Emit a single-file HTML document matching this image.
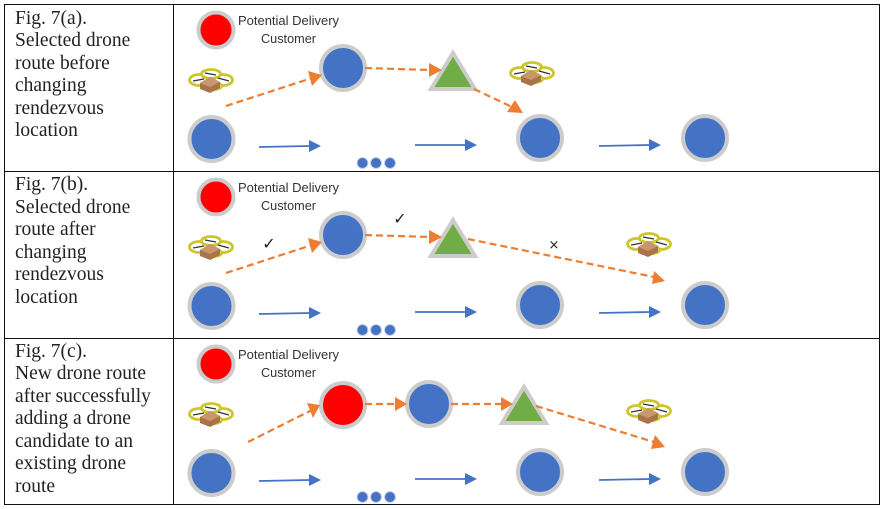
<!DOCTYPE html>
<html><head><meta charset="utf-8"><style>
html,body{margin:0;padding:0;background:#fff;width:886px;height:509px;overflow:hidden}
svg{display:block}
.c{font-family:"Liberation Serif",serif;font-size:19.5px;fill:#222}
.l{font-family:"Liberation Sans",sans-serif;font-size:12.5px;fill:#333;text-anchor:middle}
.m{font-family:"DejaVu Sans",sans-serif;font-size:16px;fill:#222;text-anchor:middle}
</style></head><body>
<svg width="886" height="509" viewBox="0 0 886 509" xmlns="http://www.w3.org/2000/svg">
<defs>
<g id="drone">
<ellipse cx="-12" cy="0" rx="9.500" ry="5.500" fill="#fff" stroke="#cdc62b" stroke-width="2.800"/>
<ellipse cx="12" cy="0" rx="9.500" ry="5.500" fill="#fff" stroke="#cdc62b" stroke-width="2.800"/>
<ellipse cx="0" cy="-6" rx="9.500" ry="4.500" fill="#fff" stroke="#cdc62b" stroke-width="2.800"/>
<ellipse cx="1" cy="6" rx="10" ry="4" fill="#e6e08a" stroke="#cdc62b" stroke-width="2.200"/>
<path d="M-18 1L-7-1M7-2L18 1M-6-7L5-5" stroke="#333" stroke-width="1.200"/>
<path d="M-11 3L-1-3 9 2V8L-1 13-11 9z" fill="#a9744a"/>
<path d="M-11 3L-1-3 9 2-1 7z" fill="#c9976b"/>
</g>
<g id="dots"><circle cx="362.500" cy="163" r="5.500" fill="#4472c4" stroke="#c9d3e8"/><circle cx="376" cy="163" r="5.500" fill="#4472c4" stroke="#c9d3e8"/><circle cx="390" cy="163" r="5.500" fill="#4472c4" stroke="#c9d3e8"/></g>
<g id="common">
<circle cx="216" cy="30" r="17.500" fill="#f00" stroke="#ccc" stroke-width="4"/>
<text class="l" x="288.500" y="25" textLength="101" lengthAdjust="spacingAndGlyphs">Potential Delivery</text>
<text class="l" x="288.500" y="43" textLength="55" lengthAdjust="spacingAndGlyphs">Customer</text>
<use href="#drone" x="211" y="80"/>
<circle cx="211.500" cy="139" r="22" fill="#4472c4" stroke="#ccc" stroke-width="4"/>
<path d="M259 147L310 146" stroke="#4472c4" stroke-width="1.800"/><path d="M309 140L321 146 309 152z" fill="#4472c4"/>
<path d="M415 145L466 145" stroke="#4472c4" stroke-width="1.800"/><path d="M465 139L477 145 465 151z" fill="#4472c4"/>
<path d="M599 146L650 145" stroke="#4472c4" stroke-width="1.800"/><path d="M649 139L661 145 649 151z" fill="#4472c4"/>
<use href="#dots"/>
<circle cx="540" cy="138" r="22" fill="#4472c4" stroke="#ccc" stroke-width="4"/>
<circle cx="705" cy="138" r="22" fill="#4472c4" stroke="#ccc" stroke-width="4"/>
</g>
<g id="tri"><path d="M453 53L475 89H431z" fill="#70ad47" stroke="#ccc" stroke-width="4"/></g>
</defs>

<!-- Row a -->
<use href="#common"/>
<circle cx="343" cy="68" r="22" fill="#4472c4" stroke="#ccc" stroke-width="4"/>
<use href="#tri"/>
<use href="#drone" x="532" y="73"/>
<g fill="none" stroke="#ed7d31" stroke-width="2.200" stroke-dasharray="7 4">
<path d="M226 106L312 78"/><path d="M365 68L430 70"/><path d="M474 89L512 107"/>
</g>
<g fill="#ed7d31">
<path d="M308 71L322 75 312 86z"/><path d="M429 63L442 70 429 77z"/><path d="M515 100L523 113 507 112z"/>
</g>

<!-- Row b -->
<g transform="translate(0,167)">
<use href="#common"/>
<circle cx="343" cy="68" r="22" fill="#4472c4" stroke="#ccc" stroke-width="4"/>
<use href="#tri"/>
<use href="#drone" x="649" y="77"/>
<g fill="none" stroke="#ed7d31" stroke-width="2.200" stroke-dasharray="7 4">
<path d="M226 106L312 78"/><path d="M365 68L430 70"/><path d="M468 72L654 110"/>
</g>
<g fill="#ed7d31">
<path d="M308 71L322 75 312 86z"/><path d="M429 63L442 70 429 77z"/><path d="M654 104L665 114 652 117z"/>
</g>
<text class="m" x="269" y="82">✓</text><text class="m" x="400" y="57">✓</text><text class="m" x="554" y="82" style="font-size:13px">×</text>
</g>

<!-- Row c -->
<g transform="translate(0,334)">
<use href="#common"/>
<circle cx="343" cy="71" r="22" fill="#f00" stroke="#ccc" stroke-width="4"/>
<circle cx="429" cy="70" r="22" fill="#4472c4" stroke="#ccc" stroke-width="4"/>
<path d="M524 53L546 89H502z" fill="#70ad47" stroke="#ccc" stroke-width="4"/>
<use href="#drone" x="649" y="77"/>
<g fill="none" stroke="#ed7d31" stroke-width="2.200" stroke-dasharray="7 4">
<path d="M248 108L312 76"/><path d="M365 70L396 70"/><path d="M451 70L502 70"/><path d="M536 72L654 108"/>
</g>
<g fill="#ed7d31">
<path d="M307 69L320 71 313 84z"/><path d="M395 63L407 70 395 77z"/><path d="M501 63L513 70 501 77z"/><path d="M655 101L665 113 651 115z"/>
</g>
</g>

<!-- Table -->
<g fill="none" stroke="#111" stroke-width="1">
<rect x="4.500" y="4.500" width="875" height="500"/>
<path d="M173.500 4.500V504.500M4.500 171.500H879.500M4.500 338.500H879.500"/>
</g>
<g class="c">
<text class="c" x="15" y="24">Fig. 7(a).</text><text class="c" x="15" y="46">Selected drone</text><text class="c" x="15" y="69">route before</text><text class="c" x="15" y="91">changing</text><text class="c" x="15" y="114">rendezvous</text><text class="c" x="15" y="136">location</text>
<text class="c" x="15" y="190">Fig. 7(b).</text><text class="c" x="15" y="213">Selected drone</text><text class="c" x="15" y="235">route after</text><text class="c" x="15" y="258">changing</text><text class="c" x="15" y="280">rendezvous</text><text class="c" x="15" y="303">location</text>
<text class="c" x="15" y="357">Fig. 7(c).</text><text class="c" x="15" y="379">New drone route</text><text class="c" x="15" y="402">after successfully</text><text class="c" x="15" y="424">adding a drone</text><text class="c" x="15" y="447">candidate to an</text><text class="c" x="15" y="469">existing drone</text><text class="c" x="15" y="492">route</text>
</g>
</svg>
</body></html>
